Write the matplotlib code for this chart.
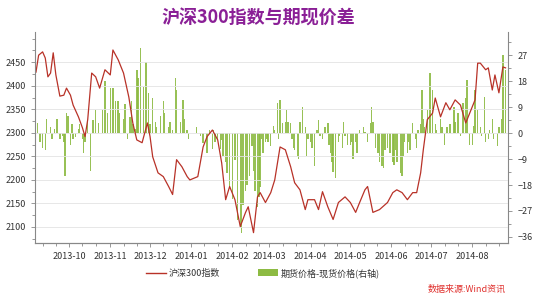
import pandas as pd
import matplotlib
matplotlib.use('Agg')
import matplotlib.pyplot as plt
import matplotlib.dates as mdates
from matplotlib.ticker import FixedLocator, MultipleLocator
from matplotlib.lines import Line2D
from matplotlib.patches import Patch

plt.rcParams['font.family'] = ['Noto Sans CJK SC', 'DejaVu Sans']

title = '沪深300指数与期现价差'
line_label = '沪深300指数'
bar_label = '期货价格-现货价格(右轴)'
source = '数据来源:Wind资讯'

# CSI 300 index (left axis)
idx_dates = ['2013-09-06', '2013-09-08', '2013-09-11', '2013-09-13', '2013-09-15', '2013-09-17',
             '2013-09-19', '2013-09-21', '2013-09-24', '2013-09-27', '2013-09-29', '2013-10-02',
             '2013-10-04', '2013-10-08', '2013-10-11', '2013-10-13', '2013-10-15', '2013-10-18',
             '2013-10-21', '2013-10-24', '2013-10-28', '2013-11-01', '2013-11-03', '2013-11-07',
             '2013-11-11', '2013-11-15', '2013-11-18', '2013-11-21', '2013-11-25', '2013-11-29',
             '2013-12-01', '2013-12-03', '2013-12-07', '2013-12-11', '2013-12-15', '2013-12-18',
             '2013-12-21', '2013-12-25', '2013-12-29', '2013-12-31', '2014-01-06', '2014-01-10',
             '2014-01-13', '2014-01-17', '2014-01-21', '2014-01-24', '2014-01-27', '2014-01-30',
             '2014-02-03', '2014-02-07', '2014-02-11', '2014-02-13', '2014-02-17', '2014-02-20',
             '2014-02-22', '2014-02-26', '2014-03-02', '2014-03-05', '2014-03-09', '2014-03-13',
             '2014-03-17', '2014-03-20', '2014-03-24', '2014-03-28', '2014-03-30', '2014-04-04',
             '2014-04-07', '2014-04-10', '2014-04-14', '2014-04-18', '2014-04-22', '2014-04-27',
             '2014-05-01', '2014-05-05', '2014-05-08', '2014-05-12', '2014-05-14', '2014-05-18',
             '2014-05-23', '2014-05-29', '2014-06-02', '2014-06-05', '2014-06-09', '2014-06-13',
             '2014-06-17', '2014-06-20', '2014-06-23', '2014-06-25', '2014-06-28', '2014-07-02',
             '2014-07-04', '2014-07-08', '2014-07-12', '2014-07-15', '2014-07-19', '2014-07-23',
             '2014-07-27', '2014-07-30', '2014-08-03', '2014-08-05', '2014-08-07', '2014-08-11',
             '2014-08-13', '2014-08-16', '2014-08-18', '2014-08-21', '2014-08-24', '2014-08-26']
idx_vals = [2429, 2465, 2472, 2459, 2419, 2427,
            2470, 2423, 2378, 2380, 2395, 2380,
            2359, 2334, 2311, 2292, 2328, 2427,
            2419, 2395, 2434, 2423, 2476, 2455,
            2427, 2376, 2321, 2285, 2279, 2321,
            2292, 2249, 2215, 2207, 2186, 2169,
            2243, 2228, 2207, 2200, 2207, 2270,
            2292, 2306, 2285, 2236, 2158, 2186,
            2158, 2101, 2131, 2143, 2088, 2164,
            2173, 2152, 2173, 2200, 2270, 2264,
            2228, 2194, 2179, 2137, 2158, 2158,
            2137, 2175, 2143, 2116, 2152, 2164,
            2152, 2131, 2152, 2179, 2186, 2131,
            2137, 2152, 2173, 2179, 2173, 2158,
            2173, 2173, 2215, 2264, 2328, 2342,
            2374, 2334, 2364, 2349, 2370, 2359,
            2321, 2342, 2370, 2448, 2448, 2434,
            2438, 2391, 2423, 2385, 2440, 2438]

# futures minus spot (right axis)
basis_dates = ['2013-09-07', '2013-09-09', '2013-09-11', '2013-09-13', '2013-09-14', '2013-09-17',
               '2013-09-18', '2013-09-20', '2013-09-22', '2013-09-24', '2013-09-26', '2013-09-27',
               '2013-09-28', '2013-09-29', '2013-09-30', '2013-10-02', '2013-10-03', '2013-10-04',
               '2013-10-06', '2013-10-08', '2013-10-09', '2013-10-11', '2013-10-12', '2013-10-13',
               '2013-10-15', '2013-10-17', '2013-10-19', '2013-10-21', '2013-10-23', '2013-10-26',
               '2013-10-28', '2013-10-30', '2013-11-01', '2013-11-03', '2013-11-05', '2013-11-07',
               '2013-11-08', '2013-11-11', '2013-11-12', '2013-11-14', '2013-11-16', '2013-11-17',
               '2013-11-18', '2013-11-20', '2013-11-21', '2013-11-22', '2013-11-24', '2013-11-26',
               '2013-11-28', '2013-11-30', '2013-12-01', '2013-12-03', '2013-12-05', '2013-12-06',
               '2013-12-09', '2013-12-11', '2013-12-12', '2013-12-15', '2013-12-16', '2013-12-18',
               '2013-12-20', '2013-12-21', '2013-12-24', '2013-12-26', '2013-12-27', '2013-12-29',
               '2013-12-30', '2014-01-05', '2014-01-08', '2014-01-10', '2014-01-13', '2014-01-15',
               '2014-01-17', '2014-01-18', '2014-01-19', '2014-01-21', '2014-01-23', '2014-01-24',
               '2014-01-25', '2014-01-27', '2014-01-28', '2014-01-30', '2014-02-01', '2014-02-03',
               '2014-02-05', '2014-02-07', '2014-02-08', '2014-02-09', '2014-02-11', '2014-02-12',
               '2014-02-14', '2014-02-16', '2014-02-17', '2014-02-18', '2014-02-20', '2014-02-21',
               '2014-02-22', '2014-02-23', '2014-02-24', '2014-02-26', '2014-02-27', '2014-02-28',
               '2014-03-02', '2014-03-04', '2014-03-05', '2014-03-07', '2014-03-08', '2014-03-09',
               '2014-03-11', '2014-03-13', '2014-03-14', '2014-03-15', '2014-03-17', '2014-03-18',
               '2014-03-19', '2014-03-20', '2014-03-22', '2014-03-23', '2014-03-24', '2014-03-26',
               '2014-03-28', '2014-03-29', '2014-03-30', '2014-04-01', '2014-04-02', '2014-04-04',
               '2014-04-06', '2014-04-07', '2014-04-08', '2014-04-10', '2014-04-12', '2014-04-14',
               '2014-04-15', '2014-04-16', '2014-04-17', '2014-04-18', '2014-04-20', '2014-04-22',
               '2014-04-23', '2014-04-25', '2014-04-26', '2014-04-27', '2014-04-29', '2014-05-01',
               '2014-05-02', '2014-05-03', '2014-05-05', '2014-05-06', '2014-05-08', '2014-05-11',
               '2014-05-12', '2014-05-14', '2014-05-16', '2014-05-17', '2014-05-18', '2014-05-20',
               '2014-05-22', '2014-05-23', '2014-05-25', '2014-05-26', '2014-05-27', '2014-05-29',
               '2014-05-31', '2014-06-02', '2014-06-03', '2014-06-04', '2014-06-05', '2014-06-08',
               '2014-06-09', '2014-06-10', '2014-06-11', '2014-06-13', '2014-06-14', '2014-06-15',
               '2014-06-17', '2014-06-19', '2014-06-20', '2014-06-21', '2014-06-23', '2014-06-24',
               '2014-06-25', '2014-06-26', '2014-06-28', '2014-06-30', '2014-07-02', '2014-07-04',
               '2014-07-05', '2014-07-08', '2014-07-09', '2014-07-11', '2014-07-13', '2014-07-15',
               '2014-07-18', '2014-07-19', '2014-07-21', '2014-07-23', '2014-07-25', '2014-07-27',
               '2014-07-28', '2014-07-30', '2014-08-01', '2014-08-02', '2014-08-03', '2014-08-05',
               '2014-08-07', '2014-08-08', '2014-08-10', '2014-08-11', '2014-08-13', '2014-08-14',
               '2014-08-16', '2014-08-17', '2014-08-20', '2014-08-21', '2014-08-23', '2014-08-24',
               '2014-08-26']
basis_vals = [3.5, -3, -5, -6, 5, 2,
              -2, 1.5, 5, -2, -1, -3,
              -15, 7, 6, -4, 3, -2,
              -1.5, 1.5, 3, -2, -7, -3,
              4, -13, 4.5, 8, 3.5, 8,
              18, 7, 15.5, 15.5, 11, 11,
              7, 5, 10, -2, 5.5, 11,
              3, 1.5, 21.8, 19, 29.4, 16,
              24.6, 14, 3, 12, 4, 2,
              6, 11, 7, 2, 4, 1,
              19, 15, 4, 11.6, 5, 1,
              -2, 2, -1, -3.5, -7, 1,
              -5.5, 1, -3, -2, -5.5, -2.5,
              -8, -10, -14, -18.7, -23, -9.5,
              -30, -32.5, -34.6, -25, -20, -18,
              -15, -4.5, -13, -20, -25.6, -22,
              -18.7, -2, -7, -3, -2, -3,
              -4.6, 2.5, 1, 10.4, -2, 11.5,
              3.5, 4, 8, 4, 3.5, -2,
              -5, -6, -8, -9, 4, 9.2,
              2, -8, -2, -3, -5, -11.5,
              1, 4.6, -1, -2, 2, 3.5,
              -4, -7, -10, -13.5, -15.7, -3,
              -1, -5, 4, -1, -4, -4,
              -3, -9, -3, -7, 1, 2,
              0.5, -3, 3.5, 9.2, 4, -5,
              -7, -10, -11.5, -12, -6, -5,
              -7, -10, -11, -6, -10, -13.8,
              -15, -8, -3, -7, -3, -6,
              3.5, -2, -5, 1, 3, 15,
              5, 2, 8, 20.8, 15, 3,
              1, 5, 2, -4, 2, 3,
              9, 4, 7, -1, 10.5, 12,
              18.3, -4, -4, 2.5, 15, 8,
              2, -1, 12.5, -3, -2, 1,
              5, -2, -4.6, 2, 5, 27,
              22]

left_ticks = [2100, 2150, 2200, 2250, 2300, 2350, 2400, 2450]
right_ticks = [-36, -27, -18, -9, 0, 9, 18, 27]

fig = plt.figure(figsize=(5.5, 3), dpi=100)
ax = fig.add_axes([0.064, 0.19, 0.86, 0.703])
ax2 = ax.twinx()

x_idx = pd.to_datetime(idx_dates)
x_bas = pd.to_datetime(basis_dates)

ax2.bar(x_bas, basis_vals, width=1.1, color='#8dbb43', alpha=0.9, linewidth=0)
ax.plot(x_idx, idx_vals, color='#b83228', lw=0.9)

ax.set_zorder(ax2.get_zorder() + 1)
ax.patch.set_visible(False)

ax.set_ylim(2066, 2514)
ax2.set_ylim(-38.1, 35)
ax.set_xlim(pd.Timestamp('2013-09-05 10:00'), pd.Timestamp('2014-08-28'))

ax.yaxis.set_major_locator(FixedLocator(left_ticks))
ax.yaxis.set_minor_locator(MultipleLocator(25))
ax2.yaxis.set_major_locator(FixedLocator(right_ticks))
ax2.yaxis.set_minor_locator(MultipleLocator(4.5))
ax.xaxis.set_major_locator(mdates.MonthLocator())
ax.xaxis.set_major_formatter(mdates.DateFormatter('%Y-%m'))
ax.xaxis.set_minor_locator(mdates.DayLocator(bymonthday=[11, 21]))

ax.grid(axis='y', color='#e3e3e3', lw=0.6)
ax.set_axisbelow(True)

for a in (ax, ax2):
    for s in a.spines.values():
        s.set_color('#888888')
        s.set_linewidth(0.8)
    a.spines['top'].set_visible(False)
    a.tick_params(which='both', colors='#888888', labelcolor='#333333', labelsize=6.5, length=3, width=0.6)
    a.tick_params(which='minor', length=2)
ax2.spines['left'].set_visible(False)
ax.spines['right'].set_visible(False)

fig.text(0.47, 0.94, title, ha='center', va='center', fontsize=13, fontweight='bold', color='#8a1f96')

handles = [Line2D([], [], color='#b83228', lw=1.0),
           Patch(facecolor='#8dbb43', edgecolor='none')]
fig.legend(handles, [line_label, bar_label], loc='center', bbox_to_anchor=(0.478, 0.09),
           ncol=2, frameon=False, fontsize=6.5, handlelength=2.2, handleheight=0.8,
           handletextpad=0.35, columnspacing=4.2, labelcolor='#333333')

fig.text(0.92, 0.035, source, ha='right', va='center', fontsize=6.5, color='#e0312e', style='italic')

fig.savefig('out.png', dpi=100)
